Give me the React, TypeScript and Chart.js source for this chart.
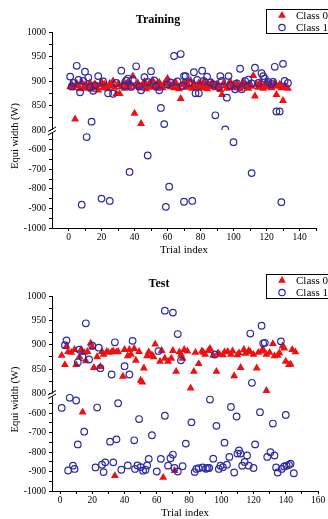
import React, { useEffect, useRef } from 'react';
import { Chart, registerables } from 'chart.js';

Chart.register(...registerables);

const classLabels = ['Class 0', 'Class 1'];
const yTitle = 'Equi width (W)';
const xTitle = 'Trial index';

// Training: [trial index, equi width]
const trainClass0: [number, number][] = [
  [1, 888], [2, 893], [3, 886], [4, 822], [5, 895], [6, 890], [7, 884], [8, 897], [9, 887], [10, 892],
  [11, 885], [12, 890], [13, 896], [14, 883], [15, 889], [16, 894], [17, 887], [18, 881], [19, 892], [20, 898],
  [21, 886], [22, 893], [23, 889], [24, 884], [25, 895], [26, 890], [27, 900], [28, 887], [29, 874], [30, 893],
  [31, 874], [32, 888], [33, 896], [34, 885], [35, 891], [36, 898], [37, 887], [38, 893], [39, 910], [40, 834],
  [41, 889], [42, 896], [43, 886], [44, 813], [45, 892], [46, 899], [47, 884], [48, 890], [49, 895], [50, 887],
  [51, 901], [52, 889], [53, 893], [54, 885], [55, 897], [56, 891], [57, 886], [58, 894], [59, 899], [60, 905],
  [61, 890], [62, 888], [63, 893], [64, 886], [65, 897], [66, 890], [67, 884], [68, 864], [69, 892], [70, 898],
  [71, 887], [72, 893], [73, 889], [74, 901], [75, 885], [76, 895], [77, 890], [78, 887], [79, 896], [80, 892],
  [81, 886], [82, 899], [83, 890], [84, 884], [85, 893], [86, 888], [87, 897], [88, 891], [89, 886], [90, 894],
  [91, 889], [92, 882], [93, 872], [94, 896], [95, 890], [96, 885], [97, 893], [98, 899], [99, 887], [100, 892],
  [101, 886], [102, 895], [103, 889], [104, 884], [105, 893], [106, 898], [107, 888], [108, 891], [109, 885], [110, 894],
  [111, 889], [112, 911], [113, 869], [114, 893], [115, 887], [116, 896], [117, 890], [118, 885], [119, 892], [120, 898],
  [121, 888], [122, 893], [123, 886], [124, 890], [125, 895], [126, 872], [127, 889], [128, 893], [129, 886], [130, 860],
  [131, 891], [132, 887], [133, 885],
];

const trainClass1: [number, number][] = [
  [1, 909], [2, 889], [3, 896], [5, 931], [6, 902], [7, 877], [9, 900], [10, 919], [12, 907], [13, 887],
  [14, 817], [15, 880], [16, 891], [18, 910], [21, 899], [24, 875], [27, 874], [29, 896], [32, 921], [34, 890],
  [35, 901], [36, 905], [38, 888], [39, 902], [41, 930], [43, 889], [44, 881], [46, 908], [48, 898], [50, 920],
  [52, 901], [53, 890], [55, 881], [56, 845], [58, 812], [60, 893], [62, 897], [64, 951], [66, 899], [68, 955],
  [69, 890], [70, 910], [71, 910], [73, 896], [76, 918], [77, 875], [78, 902], [79, 875], [81, 921], [82, 900],
  [84, 909], [86, 897], [88, 893], [89, 830], [91, 888], [92, 910], [93, 900], [95, 801], [96, 866], [97, 910],
  [98, 891], [101, 883], [102, 895], [104, 925], [105, 883], [107, 900], [109, 903], [111, 895], [113, 927], [115, 896],
  [117, 916], [118, 910], [119, 905], [121, 898], [123, 894], [124, 898], [125, 929], [126, 838], [128, 838], [130, 935],
  [131, 900], [133, 896],
  [8, -881], [11, -536], [20, -850], [25, -862], [37, -714], [48, -630], [59, -892], [61, -789], [70, -866], [75, -862],
  [100, -562], [111, -720], [129, -868],
];

// Test: [trial index, equi width]
const testClass0: [number, number][] = [
  [1, 878], [3, 859], [4, 897], [5, 886], [7, 884], [9, 890], [10, 859], [12, 875], [13, 890], [15, 884],
  [16, 867], [17, 886], [19, 903], [20, 895], [21, 853], [23, 875], [25, 855], [26, 886], [27, 880], [29, 886],
  [30, 884], [32, 885], [33, 887], [35, 885], [36, 886], [39, 835], [40, 890], [42, 877], [43, 890], [44, 880],
  [46, 892], [47, 868], [49, 886], [50, 827], [51, 823], [52, 852], [54, 877], [55, 885], [57, 879], [58, 875],
  [59, 901], [62, 866], [63, 888], [65, 872], [67, 866], [69, 872], [70, 888], [72, 845], [74, 885], [75, 880],
  [76, 872], [77, 890], [79, 887], [81, 811], [83, 845], [84, 884], [86, 861], [88, 887], [89, 884], [90, 880],
  [92, 888], [93, 892], [95, 878], [97, 845], [98, 883], [99, 880], [101, 879], [102, 885], [104, 886], [106, 880],
  [107, 887], [108, 836], [110, 879], [111, 883], [112, 853], [114, 890], [115, 882], [117, 888], [118, 885], [120, 880],
  [122, 852], [123, 884], [125, 887], [126, 890], [128, 806], [128, 880], [130, 884], [132, 902], [133, 877], [135, 878],
  [136, 883], [138, 897], [139, 893], [140, 866], [142, 859], [143, 860], [144, 890], [146, 885],
  [14, -596], [34, -922], [64, -931], [71, -896],
];

const testClass1: [number, number][] = [
  [3, 899], [4, 909], [11, 864], [12, 890], [14, 875], [16, 944], [18, 870], [20, 898], [24, 894], [25, 852],
  [32, 839], [34, 905], [40, 856], [43, 839], [45, 908], [61, 887], [65, 970], [70, 966], [73, 922], [75, 868],
  [96, 880], [118, 923], [119, 822], [125, 939], [126, 903], [127, 904], [137, 907],
  [1, -574], [6, -522], [10, -536], [5, -895], [8, -870], [9, -887], [11, -761], [15, -696], [23, -572], [22, -879],
  [26, -865], [27, -903], [28, -853], [31, -747], [33, -853], [35, -735], [36, -550], [38, -891], [42, -869], [46, -740],
  [46.5, -887], [48, -869], [49, -631], [50, -878], [51.5, -896], [53, -891], [54, -869], [55, -836], [57, -714], [60, -900],
  [62.5, -835], [65, -614], [67, -870], [68.5, -832], [70, -813], [71, -882], [73, -900], [76, -873], [78, -757], [81.5, -648],
  [83.5, -903], [84.5, -887], [86, -883], [88.5, -879], [90.5, -886], [91.5, -882], [92.5, -882], [93, -531], [95, -834], [97, -666],
  [98.5, -887], [99.5, -870], [101, -878], [102, -752], [103.5, -865], [105, -825], [106, -569], [108, -905], [109.5, -618], [110, -808],
  [111, -792], [112, -808], [113, -870], [114.5, -851], [116, -818], [117, -870], [120, -882], [121, -761], [124, -596], [128.5, -825],
  [130.5, -801], [132, -654], [133, -818], [134, -879], [135, -905], [137.5, -887], [139, -874], [140, -610], [140.5, -870], [142, -866],
  [143, -860], [145, -909],
];

const upperTicks = [800, 825, 850, 875, 900, 925, 950, 975, 1000];
const upperLabels = [800, 850, 900, 950, 1000];
const lowerTicks = [-1000, -950, -900, -850, -800, -750, -700, -650, -600, -550];
const lowerLabels = [-1000, -900, -800, -700, -600];
const trainXTicks = [0, 10, 20, 30, 40, 50, 60, 70, 80, 90, 100, 110, 120, 130, 140, 150];
const trainXLabels = [0, 20, 40, 60, 80, 100, 120, 140];
const testXTicks = [0, 10, 20, 30, 40, 50, 60, 70, 80, 90, 100, 110, 120, 130, 140, 150, 160];
const testXLabels = [0, 20, 40, 60, 80, 100, 120, 140, 160];

const RED = '#ee1111';
const BLUE = '#2b2ba6';
const FONT = "'Liberation Serif', 'Times New Roman', serif";

const pick = (pts: [number, number][], upper: boolean) =>
  pts.filter(p => (upper ? p[1] > 0 : p[1] < 0)).map(p => ({ x: p[0], y: p[1] }));

const decorPlugin = {
  id: 'decor',
  afterDraw(chart: any) {
    const o = chart.options.plugins.decor;
    const ctx = chart.ctx;
    const area = chart.chartArea;
    ctx.save();
    ctx.fillStyle = '#000';
    ctx.font = `10.5px ${FONT}`;
    ctx.textAlign = 'center';
    ctx.textBaseline = 'middle';
    ctx.translate(15, (area.top + area.bottom) / 2 + 6);
    ctx.rotate(-Math.PI / 2);
    ctx.fillText(yTitle, 0, 0);
    ctx.restore();

    // axis break
    const yb = chart.scales.yHigh.bottom;
    const xa = area.left;
    ctx.save();
    ctx.fillStyle = '#fff';
    ctx.fillRect(xa - 1, yb + 0, 3, 3);
    ctx.strokeStyle = '#000';
    ctx.lineWidth = 1;
    ctx.beginPath();
    ctx.moveTo(xa - 4, yb + 1.5);
    ctx.lineTo(xa + 4, yb - 3);
    ctx.moveTo(xa - 4, yb + 5);
    ctx.lineTo(xa + 4, yb + 0.5);
    ctx.stroke();
    ctx.restore();

    // legend
    const x0 = o.legendX;
    const y0 = o.legendY;
    ctx.save();
    ctx.fillStyle = '#fff';
    ctx.fillRect(x0, y0, 80, 24);
    ctx.strokeStyle = '#000';
    ctx.lineWidth = 1;
    ctx.strokeRect(x0 + 0.5, y0 + 0.5, 80, 24);
    const mx = x0 + 16;
    const r1 = y0 + 6.5;
    const r2 = y0 + 18.5;
    const rt = 4.5;
    ctx.fillStyle = RED;
    ctx.beginPath();
    ctx.moveTo(mx, r1 - rt);
    ctx.lineTo(mx + rt * 0.866, r1 + rt / 2);
    ctx.lineTo(mx - rt * 0.866, r1 + rt / 2);
    ctx.closePath();
    ctx.fill();
    ctx.strokeStyle = BLUE;
    ctx.lineWidth = 1.2;
    ctx.beginPath();
    ctx.arc(mx, r2, 3.2, 0, Math.PI * 2);
    ctx.stroke();
    ctx.fillStyle = '#000';
    ctx.font = `11px ${FONT}`;
    ctx.textAlign = 'left';
    ctx.textBaseline = 'middle';
    ctx.fillText(classLabels[0], x0 + 30, r1 + 0.5);
    ctx.fillText(classLabels[1], x0 + 30, r2 + 0.5);
    ctx.restore();
  },
};

type PanelProps = {
  title: string;
  height: number;
  class0: [number, number][];
  class1: [number, number][];
  xMin: number;
  xMax: number;
  xTicks: number[];
  xLabels: number[];
  titlePad: { top: number; bottom: number };
  xAxisHeight: number;
  xTitlePad: number;
  rightPad: number;
  legendY: number;
};

function Panel(p: PanelProps) {
  const ref = useRef<HTMLCanvasElement>(null);
  useEffect(() => {
    if (!ref.current) return;
    const tickFont = { family: FONT, size: 9.5 };
    const yCommon = (ticks: number[], labels: number[], min: number, max: number) => ({
      type: 'linear' as const,
      position: 'left' as const,
      stack: 'y',
      stackWeight: 1,
      min,
      max,
      afterBuildTicks: (s: any) => {
        s.ticks = ticks.map(v => ({ value: v }));
      },
      afterFit: (s: any) => {
        s.width = 52;
      },
      ticks: {
        autoSkip: false,
        padding: 3,
        color: '#000',
        font: tickFont,
        callback: (v: any) => (labels.includes(Number(v)) ? String(v) : ''),
      },
      grid: { drawOnChartArea: false, tickLength: 3, tickColor: '#000', tickWidth: 1 },
      border: { color: '#000', width: 1 },
    });
    const tri = { pointStyle: 'triangle', pointRadius: 4.6, backgroundColor: RED, borderColor: RED, borderWidth: 0, order: 2 };
    const circ = { pointStyle: 'circle', pointRadius: 3.3, backgroundColor: 'rgba(0,0,0,0)', borderColor: BLUE, borderWidth: 1.2, order: 1 };
    const chart = new Chart(ref.current, {
      type: 'scatter',
      data: {
        datasets: [
          { label: classLabels[0], data: pick(p.class0, true), yAxisID: 'yHigh', ...tri },
          { label: classLabels[0], data: pick(p.class0, false), yAxisID: 'yLow', ...tri },
          { label: classLabels[1], data: pick(p.class1, true), yAxisID: 'yHigh', ...circ },
          { label: classLabels[1], data: pick(p.class1, false), yAxisID: 'yLow', ...circ },
        ] as any,
      },
      options: {
        responsive: false,
        animation: false,
        devicePixelRatio: 1,
        layout: { padding: { left: 0, right: p.rightPad, top: 0, bottom: 0 } },
        plugins: {
          legend: { display: false },
          tooltip: { enabled: false },
          title: {
            display: true,
            text: p.title,
            color: '#000',
            font: { family: FONT, size: 12, weight: 'bold', lineHeight: 1.2 },
            padding: p.titlePad,
          },
          decor: { legendX: 266, legendY: p.legendY },
        } as any,
        scales: {
          x: {
            type: 'linear',
            position: 'bottom',
            min: p.xMin,
            max: p.xMax,
            afterBuildTicks: (s: any) => {
              s.ticks = p.xTicks.map(v => ({ value: v }));
            },
            afterFit: (s: any) => {
              s.height = p.xAxisHeight;
            },
            ticks: {
              autoSkip: false,
              maxRotation: 0,
              padding: 1,
              color: '#000',
              font: tickFont,
              callback: (v: any) => (p.xLabels.includes(Number(v)) ? String(v) : ''),
            },
            grid: { drawOnChartArea: false, tickLength: 3, tickColor: '#000' },
            border: { color: '#000', width: 1 },
            title: {
              display: true,
              text: xTitle,
              color: '#000',
              font: { family: FONT, size: 11, lineHeight: 1 },
              padding: { top: 0, bottom: p.xTitlePad },
            },
          },
          yLow: yCommon(lowerTicks, lowerLabels, -1000, -500),
          yHigh: yCommon(upperTicks, upperLabels, 800, 1000),
        } as any,
      },
      plugins: [decorPlugin],
    });
    return () => chart.destroy();
  }, []);
  return <canvas ref={ref} width={328} height={p.height} style={{ display: 'block', width: 328, height: p.height }} />;
}

export default function App() {
  return (
    <div style={{ position: 'absolute', left: 0, top: 0, width: 328, height: 519, background: '#fff' }}>
      <Panel
        title="Training"
        height={259}
        class0={trainClass0}
        class1={trainClass1}
        xMin={-10}
        xMax={150}
        xTicks={trainXTicks}
        xLabels={trainXLabels}
        titlePad={{ top: 13, bottom: 4.6 }}
        xAxisHeight={31}
        xTitlePad={3.5}
        rightPad={12}
        legendY={9}
      />
      <Panel
        title="Test"
        height={260}
        class0={testClass0}
        class1={testClass1}
        xMin={-5}
        xMax={160}
        xTicks={testXTicks}
        xLabels={testXLabels}
        titlePad={{ top: 17.8, bottom: 4.8 }}
        xAxisHeight={28}
        xTitlePad={0}
        rightPad={10}
        legendY={15}
      />
    </div>
  );
}
